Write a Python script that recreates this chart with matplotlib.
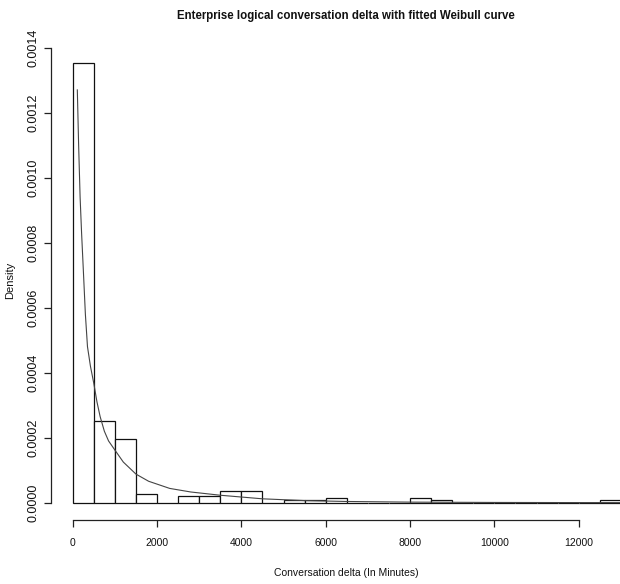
import matplotlib
matplotlib.use("Agg")
import matplotlib.pyplot as plt
from matplotlib.ticker import FuncFormatter
from matplotlib import font_manager

# Histogram breaks and densities
bin_edges = [0, 500, 1000, 1500, 2000, 2500, 3000, 3500, 4000, 4500, 5000,
             5500, 6000, 6500, 7000, 7500, 8000, 8500, 9000, 9500, 10000,
             10500, 11000, 11500, 12000, 12500, 13000]
densities = [0.001352, 0.000252, 0.000197, 0.0000277, 0.0, 0.0000210,
             0.0000210, 0.0000350, 0.0000350, 0.0, 0.0000070, 0.0000070,
             0.0000140, 0.0, 0.0, 0.0, 0.0000140, 0.0000070, 0.0, 0.0,
             0.0, 0.0, 0.0, 0.0, 0.0, 0.0000070]

# Fitted Weibull curve
curve_x = [109, 140, 175, 210, 250, 300, 350, 420, 500, 575, 650, 750, 850,
           1000, 1200, 1500, 1800, 2300, 2800, 3500, 4500, 5500, 6500, 8000,
           10000, 12000, 13000]
curve_y = [0.00127, 0.00110, 0.00094, 0.00083, 0.00072, 0.00058, 0.00048,
           0.00042, 0.000367, 0.00031, 0.000265, 0.00022, 0.00019, 0.000162,
           0.000125, 0.000088, 0.000066, 0.000044, 0.000033, 0.000023,
           0.000012, 0.0000065, 0.0000038, 0.0000018, 0.0000008, 0.0000004,
           0.0000003]

x_ticks = [0, 2000, 4000, 6000, 8000, 10000, 12000]
y_ticks = [0.0, 0.0002, 0.0004, 0.0006, 0.0008, 0.0010, 0.0012, 0.0014]

title = "Enterprise logical conversation delta with fitted Weibull curve"
xlabel = "Conversation delta (In Minutes)"
ylabel = "Density"

plt.rcParams['font.family'] = ['Liberation Sans', 'DejaVu Sans']

# Horizontal text in the reference is narrow: use a narrow face if present
narrow = None
try:
    p = font_manager.findfont(font_manager.FontProperties(family='Liberation Sans Narrow'),
                              fallback_to_default=False)
    if 'Narrow' in p:
        narrow = 'Liberation Sans Narrow'
except Exception:
    narrow = None
if narrow:
    hfam = [narrow, 'Liberation Sans', 'DejaVu Sans']
    xtick_size, xlabel_size, title_size = 8.4, 8.5, 9.6
else:
    hfam = ['Liberation Sans', 'DejaVu Sans']
    xtick_size, xlabel_size, title_size = 7.5, 7.5, 8.3

W, H = 620, 584
fig = plt.figure(figsize=(W / 100, H / 100), dpi=100)
left, right, top, bottom = 50.8, 642.8, 45.7, 520.3
ax = fig.add_axes([left / W, 1 - bottom / H, (right - left) / W, (bottom - top) / H])

widths = [bin_edges[i + 1] - bin_edges[i] for i in range(len(densities))]
ax.bar(bin_edges[:-1], densities, width=widths, align='edge',
       facecolor='white', edgecolor='#111111', linewidth=0.9)
ax.plot(curve_x, curve_y, color='#444444', linewidth=0.8)

ax.set_xlim(-520, 13520)
ax.set_ylim(-0.0000541, 0.001406)

for s in ['top', 'right']:
    ax.spines[s].set_visible(False)
ax.spines['bottom'].set_bounds(0, 12000)
ax.spines['left'].set_bounds(0, 0.0014)
for s in ['bottom', 'left']:
    ax.spines[s].set_linewidth(0.9)
    ax.spines[s].set_color('#222222')

ax.set_xticks(x_ticks)
ax.set_xticklabels([str(v) for v in x_ticks])
ax.set_yticks(y_ticks)
ax.yaxis.set_major_formatter(FuncFormatter(lambda v, p: "%.4f" % v))
ax.tick_params(axis='both', direction='out', length=5, width=0.9,
               color='#222222', labelcolor='#111111')
ax.tick_params(axis='x', pad=8, labelsize=xtick_size)
ax.tick_params(axis='y', pad=3, labelsize=9)
for lab in ax.get_xticklabels():
    lab.set_family(hfam)
for lab in ax.get_yticklabels():
    lab.set_rotation(90)
    lab.set_va('center')

fig.text(346 / W, 1 - 16 / H, title, ha='center', va='center',
         fontsize=title_size, fontweight='bold', color='#111111', family=hfam)
fig.text(346 / W, 1 - 573 / H, xlabel, ha='center', va='center',
         fontsize=xlabel_size, color='#111111', family=hfam)
fig.text(10 / W, 1 - 280 / H, ylabel, ha='center', va='center',
         fontsize=8, rotation=90, color='#111111')

fig.savefig("out.png", dpi=100)
